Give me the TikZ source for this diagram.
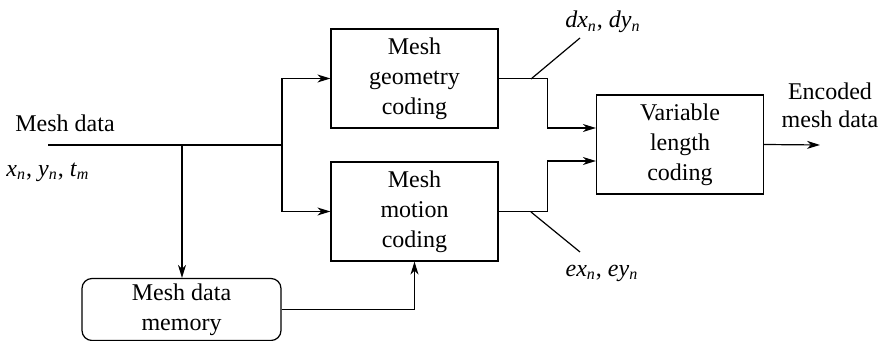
\documentclass[tikz,border=0pt]{standalone}
\usepackage{fontspec}
\setmainfont{Liberation Serif}
\usepackage{tikz}
\usetikzlibrary{arrows.meta, positioning}
\tikzstyle{codingbox} = [rectangle, draw, line width=0.6pt, minimum width=83.5pt, minimum height=49.5pt, align=center, inner sep=1pt, font=\fontsize{12}{15}\selectfont]
\tikzstyle{memorybox} = [rectangle, rounded corners=5pt, draw, line width=0.6pt, minimum width=99.5pt, minimum height=31pt, align=center, inner sep=1pt, font=\fontsize{12}{15}\selectfont]
\tikzstyle{label} = [align=center, inner sep=0pt, font=\fontsize{12}{14}\selectfont]
\tikzstyle{line} = [line width=0.6pt]
\tikzstyle{arrow} = [line width=0.6pt, -{Stealth[length=6.5pt, width=4pt, inset=2pt]}]
\newcommand{\subvar}[2]{\textit{#1}\textsubscript{\textit{#2}}}

\begin{document}
\begin{tikzpicture}[x=0.5pt, y=-0.5pt]
    \useasboundingbox (0,0) rectangle (880,341);

    % blocks
    \node (geom) [codingbox] at (414.5,78.5) {Mesh\\geometry\\coding};
    \node (motion) [codingbox] at (414.5,211.5) {Mesh\\motion\\coding};
    \node (vlc) [codingbox] at (680,144.5) {Variable\\length\\coding};
    \node (mem) [memorybox] at (181.5,309.5) {Mesh data\\memory};

    % input side
    \coordinate (in) at (48,145);
    \coordinate (split) at (182,145);
    \coordinate (fork) at (282,145);
    \node (indata) [label, anchor=south west] at (15,132) {Mesh data};
    \node (invars) [label] at (48,172) {\subvar{x}{n}, \subvar{y}{n}, \subvar{t}{m}};

    % output side
    \coordinate (out) at (820,145);
    \node (outdata) [label] at (830,105) {Encoded\\mesh data};

    % side labels
    \coordinate (dtap) at (531,79);
    \coordinate (dend) at (580,38);
    \coordinate (etap) at (531,212);
    \coordinate (eend) at (580,252);
    \node (dvars) [label] at (603,22) {\subvar{dx}{n}, \subvar{dy}{n}};
    \node (evars) [label] at (602,273) {\subvar{ex}{n}, \subvar{ey}{n}};

    \draw [line] (in) -- (fork);
    \draw [arrow] (fork) |- (geom.west);
    \draw [arrow] (fork) |- (motion.west);
    \draw [arrow] (split) -- (split |- mem.north);
    \draw [arrow] (mem.east) -| (motion.south);

    \draw [arrow] (geom.east) -- ++(49,0) |- ([yshift=8.25pt]vlc.west);
    \draw [arrow] (motion.east) -- ++(49,0) |- ([yshift=-8.25pt]vlc.west);
    \draw [arrow] (vlc.east) -- (out);

    \draw [line] (dtap) -- (dend);
    \draw [line] (etap) -- (eend);

\end{tikzpicture}
\end{document}
